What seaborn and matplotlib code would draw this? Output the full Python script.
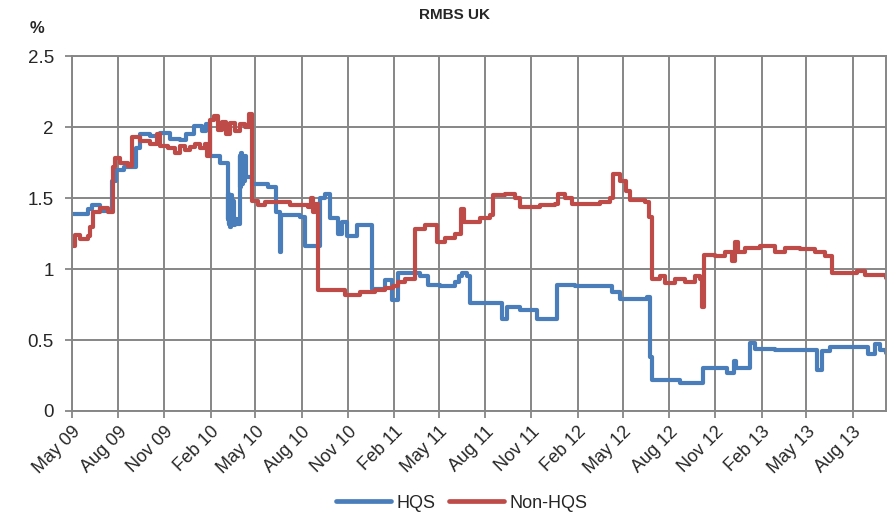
import pandas as pd
import matplotlib
import matplotlib.pyplot as plt
import seaborn as sns

matplotlib.use("Agg")

# ─── Dados ────────────────────────────────────────────────────────────────────
hqs_dates = [
    "2009-05-01", "2009-06-02", "2009-06-10", "2009-06-26", "2009-07-20",
    "2009-07-28", "2009-08-12", "2009-09-05", "2009-09-13", "2009-10-03",
    "2009-10-23", "2009-11-12", "2009-12-02", "2009-12-14", "2009-12-30",
    "2010-01-15", "2010-01-23", "2010-01-31", "2010-02-20", "2010-03-07",
    "2010-03-08", "2010-03-09", "2010-03-10", "2010-03-12", "2010-03-14",
    "2010-03-16", "2010-03-18", "2010-03-20", "2010-03-22", "2010-03-25",
    "2010-03-31", "2010-04-01", "2010-04-02", "2010-04-04", "2010-04-06",
    "2010-04-08", "2010-04-10", "2010-04-13", "2010-04-24", "2010-05-26",
    "2010-06-11", "2010-06-18", "2010-06-20", "2010-07-29", "2010-08-08",
    "2010-09-07", "2010-09-16", "2010-09-26", "2010-10-12", "2010-10-20",
    "2010-10-30", "2010-11-19", "2010-12-19", "2011-01-14", "2011-01-28",
    "2011-02-09", "2011-03-24", "2011-04-09", "2011-05-03", "2011-06-02",
    "2011-06-11", "2011-06-17", "2011-06-25", "2011-07-02", "2011-09-04",
    "2011-09-14", "2011-10-10", "2011-11-12", "2011-12-22", "2012-01-27",
    "2012-04-10", "2012-04-26", "2012-06-18", "2012-06-24", "2012-06-28",
    "2012-08-23", "2012-10-08", "2012-11-24", "2012-12-08", "2012-12-12",
    "2013-01-09", "2013-01-18", "2013-02-28", "2013-05-23", "2013-06-01",
    "2013-06-17", "2013-09-01", "2013-09-15", "2013-09-25", "2013-10-07",
]
hqs_values = [
    1.39, 1.42, 1.45, 1.41, 1.62,
    1.70, 1.72, 1.85, 1.95, 1.94,
    1.96, 1.92, 1.91, 1.95, 2.01,
    1.97, 2.02, 1.80, 1.75, 1.35,
    1.53, 1.32, 1.50, 1.30, 1.52,
    1.34, 1.48, 1.31, 1.35, 1.32,
    1.80, 1.58, 1.82, 1.60, 1.78,
    1.62, 1.80, 1.65, 1.60, 1.58,
    1.40, 1.12, 1.38, 1.37, 1.16,
    1.50, 1.53, 1.36, 1.25, 1.33,
    1.23, 1.31, 0.86, 0.92, 0.78,
    0.97, 0.95, 0.89, 0.88, 0.91,
    0.95, 0.97, 0.95, 0.76, 0.65,
    0.73, 0.71, 0.65, 0.89, 0.88,
    0.84, 0.79, 0.80, 0.38, 0.22,
    0.20, 0.30, 0.27, 0.35, 0.30,
    0.48, 0.44, 0.43, 0.29, 0.42,
    0.45, 0.40, 0.47, 0.43, 0.41,
]

non_hqs_dates = [
    "2009-05-01", "2009-05-07", "2009-05-17", "2009-06-02", "2009-06-06",
    "2009-06-12", "2009-06-26", "2009-07-12", "2009-07-22", "2009-07-26",
    "2009-08-05", "2009-08-20", "2009-08-28", "2009-09-13", "2009-10-03",
    "2009-10-17", "2009-10-23", "2009-11-08", "2009-11-22", "2009-12-02",
    "2009-12-12", "2009-12-22", "2009-12-31", "2010-01-11", "2010-01-21",
    "2010-01-25", "2010-01-31", "2010-02-08", "2010-02-16", "2010-02-24",
    "2010-03-03", "2010-03-11", "2010-03-21", "2010-03-31", "2010-04-10",
    "2010-04-18", "2010-04-24", "2010-05-06", "2010-05-20", "2010-07-09",
    "2010-08-14", "2010-08-20", "2010-08-24", "2010-08-28", "2010-09-03",
    "2010-10-26", "2010-11-25", "2010-12-25", "2011-01-14", "2011-01-30",
    "2011-02-09", "2011-02-23", "2011-03-15", "2011-04-03", "2011-04-27",
    "2011-05-13", "2011-06-02", "2011-06-14", "2011-06-20", "2011-07-12",
    "2011-07-22", "2011-08-11", "2011-08-17", "2011-09-10", "2011-09-30",
    "2011-10-10", "2011-11-18", "2011-12-18", "2011-12-24", "2012-01-07",
    "2012-01-21", "2012-02-26", "2012-03-17", "2012-04-06", "2012-04-12",
    "2012-04-26", "2012-05-07", "2012-05-15", "2012-06-14", "2012-06-22",
    "2012-06-28", "2012-07-14", "2012-07-24", "2012-08-13", "2012-09-02",
    "2012-09-22", "2012-10-02", "2012-10-06", "2012-10-10", "2012-11-01",
    "2012-11-20", "2012-12-04", "2012-12-10", "2012-12-16", "2012-12-30",
    "2013-01-29", "2013-02-28", "2013-03-20", "2013-04-19", "2013-05-19",
    "2013-06-07", "2013-06-21", "2013-07-17", "2013-08-10", "2013-08-26",
    "2013-10-07",
]
non_hqs_values = [
    1.16, 1.24, 1.21, 1.23, 1.30,
    1.40, 1.43, 1.40, 1.72, 1.78,
    1.75, 1.73, 1.93, 1.90, 1.88,
    1.95, 1.87, 1.85, 1.82, 1.87,
    1.84, 1.86, 1.88, 1.85, 1.88,
    1.80, 2.05, 2.08, 1.98, 2.04,
    1.95, 2.03, 1.97, 2.02, 2.00,
    2.09, 1.48, 1.45, 1.47, 1.45,
    1.44, 1.50, 1.40, 1.46, 0.85,
    0.82, 0.84, 0.85, 0.87, 0.88,
    0.91, 0.93, 1.28, 1.31, 1.19,
    1.22, 1.25, 1.42, 1.33, 1.33,
    1.36, 1.38, 1.52, 1.53, 1.50,
    1.44, 1.45, 1.46, 1.53, 1.50,
    1.46, 1.46, 1.47, 1.50, 1.67,
    1.62, 1.55, 1.49, 1.47, 1.37,
    0.93, 0.95, 0.90, 0.93, 0.91,
    0.95, 0.93, 0.73, 1.10, 1.09,
    1.12, 1.06, 1.19, 1.12, 1.15,
    1.16, 1.12, 1.15, 1.14, 1.12,
    1.09, 0.97, 0.97, 0.99, 0.96,
    0.94,
]

series_names = ["HQS", "Non-HQS"]
cores = ["#4A7EBB", "#BE4B48"]
tick_labels = ["May 09", "Aug 09", "Nov 09", "Feb 10", "May 10", "Aug 10",
               "Nov 10", "Feb 11", "May 11", "Aug 11", "Nov 11", "Feb 12",
               "May 12", "Aug 12", "Nov 12", "Feb 13", "May 13", "Aug 13"]

FONTE = ["Liberation Sans Narrow", "Liberation Sans", "DejaVu Sans"]
CINZA = "#868686"

# ─── Tabela longa ─────────────────────────────────────────────────────────────
df = pd.concat([
    pd.DataFrame({"data": pd.to_datetime(hqs_dates), "valor": hqs_values,
                  "serie": series_names[0]}),
    pd.DataFrame({"data": pd.to_datetime(non_hqs_dates), "valor": non_hqs_values,
                  "serie": series_names[1]}),
], ignore_index=True)

sns.set_theme(style="white")
plt.rcParams["font.family"] = FONTE

fig = plt.figure(figsize=(8.88, 5.16), dpi=100)
ax = fig.add_axes([0.081, 0.2035, 0.917, 0.6875])

sns.lineplot(data=df, x="data", y="valor", hue="serie", hue_order=series_names,
             palette=cores, estimator=None, sort=True, linewidth=3.0,
             drawstyle="steps-post", solid_joinstyle="round",
             solid_capstyle="round", ax=ax, legend=False)

# ─── Eixos ────────────────────────────────────────────────────────────────────
ax.set_xlim(pd.Timestamp("2009-05-01"), pd.Timestamp("2013-10-07"))
ax.set_ylim(0, 2.5)
ax.set_yticks([0, 0.5, 1, 1.5, 2, 2.5])
ax.set_yticklabels(["0", "0.5", "1", "1.5", "2", "2.5"], fontsize=13.5)
ticks = pd.date_range("2009-05-01", "2013-08-01", freq="3MS")
ax.set_xticks(ticks)
ax.set_xticklabels(tick_labels, rotation=45, ha="right", rotation_mode="anchor",
                   fontsize=13)
ax.set_xlabel("")
ax.set_ylabel("")

ax.grid(True, color=CINZA, linewidth=1.4)
ax.set_axisbelow(True)
for s in ax.spines.values():
    s.set_color(CINZA)
    s.set_linewidth(1.4)
ax.tick_params(axis="both", which="major", length=5, width=1.3, color=CINZA,
               direction="out", bottom=True, left=True)
ax.tick_params(axis="y", pad=8)
ax.tick_params(axis="x", pad=4)

# ─── Título, unidade e legenda ────────────────────────────────────────────────
fig.text(0.512, 0.97, "RMBS UK", ha="center", va="center", fontsize=11,
         fontweight="bold")
fig.text(0.042, 0.945, "%", ha="center", va="center", fontsize=12,
         fontweight="bold")

handles = [plt.Line2D([], [], color=c, linewidth=3.4) for c in cores]
fig.legend(handles, series_names, loc="center", bbox_to_anchor=(0.52, 0.025),
           ncol=2, frameon=False, fontsize=13, handlelength=3.0,
           columnspacing=0.8, handletextpad=0.3)

fig.savefig("out.png", dpi=100)
plt.close(fig)
